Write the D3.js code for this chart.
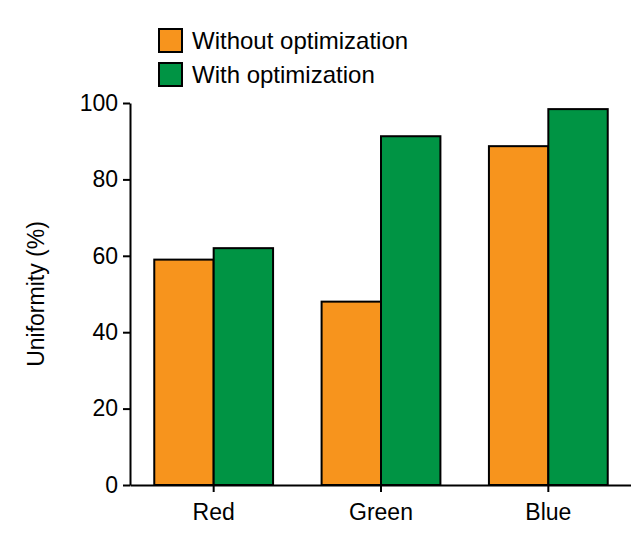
<!DOCTYPE html>
<html><head><meta charset="utf-8">
<script src="https://cdn.jsdelivr.net/npm/d3@7"></script>
<style>body{margin:0;background:#fff}text{font-family:"Liberation Sans",Arial,sans-serif}</style>
</head><body>
<svg id="c" width="631" height="547"></svg>
<script>
const categories = ["Red","Green","Blue"];
const seriesNames = ["Without optimization","With optimization"];
const without = [59, 48, 88.7];
const withOpt = [62, 91.3, 98.4];
const yTicks = [0,20,40,60,80,100];
const colors = ["#f7941d","#009444"];

const svg = d3.select("#c");
const x = d3.scaleBand().domain(categories).range([130,632]).paddingInner(0.29).paddingOuter(0.145);
const y = d3.scaleLinear().domain([0,100]).range([485,103]);
const xs = d3.scaleBand().domain([0,1]).range([0,x.bandwidth()]);
const series = [without, withOpt];

series.forEach((vals,si)=>{
  svg.selectAll(null).data(vals).enter().append("rect")
    .attr("x",(d,i)=>x(categories[i])+xs(si))
    .attr("y",d=>y(d)).attr("width",xs.bandwidth()).attr("height",d=>y(0)-y(d))
    .attr("fill",colors[si]).attr("stroke","#000").attr("stroke-width",2);
});

const ya = svg.append("g").attr("transform","translate(130,0)")
  .call(d3.axisLeft(y).tickValues(yTicks).tickSize(7).tickSizeOuter(0));
const xa = svg.append("g").attr("transform","translate(0,485)")
  .call(d3.axisBottom(x).tickSize(7).tickSizeOuter(0));
[ya,xa].forEach(a=>{a.selectAll("path,line").attr("stroke","#000").attr("stroke-width",2);
  a.selectAll("text").attr("font-size",23).attr("fill","#000");});
ya.selectAll("text").attr("dx","-2");
xa.selectAll("text").attr("dy","1.1em");

svg.append("text").attr("transform","translate(44,294) rotate(-90)")
  .attr("text-anchor","middle").attr("font-size",23).text("Uniformity (%)");

seriesNames.forEach((n,i)=>{
  const g = svg.append("g").attr("transform",`translate(159,${29+i*34})`);
  g.append("rect").attr("width",23).attr("height",23).attr("fill",colors[i]).attr("stroke","#000").attr("stroke-width",2);
  g.append("text").attr("x",33).attr("y",20).attr("font-size",24).text(n);
});
</script>
</body></html>
